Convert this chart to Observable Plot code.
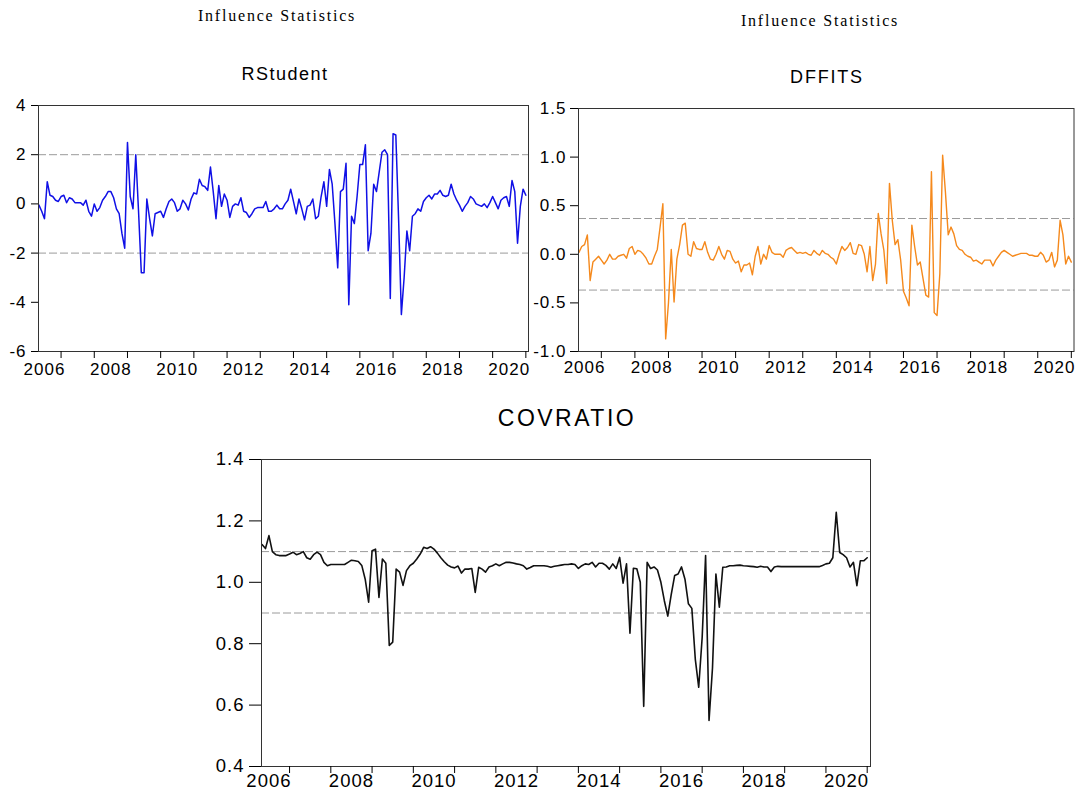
<!DOCTYPE html>
<html><head><meta charset="utf-8">
<script src="https://cdn.jsdelivr.net/npm/d3@7"></script>
<script src="https://cdn.jsdelivr.net/npm/@observablehq/plot@0.6"></script>
<style>
html,body{margin:0;padding:0;background:#fff;}
#root{position:relative;width:1075px;height:799px;overflow:hidden;background:#fff;}
.p{position:absolute;}
.t{position:absolute;width:400px;text-align:center;color:#000;white-space:nowrap;line-height:1;}
.sup{font-family:'Liberation Serif','Times New Roman',serif;font-size:15px;letter-spacing:2px;}
.ttl{font-family:'Liberation Sans',Arial,sans-serif;}
</style></head><body><div id="root"></div>
<script>
// ---- data (monthly observations starting May 2006) ----
const startYear = 2006, startMonth = 5;

const rstudent = [
 -0.05,-0.3,-0.6,0.9,0.35,0.3,0.15,0.1,0.3,0.35,
 0.05,0.25,0.2,0.05,0.05,0.05,-0.05,0.15,-0.3,-0.5,
 0.0,-0.3,-0.15,0.15,0.3,0.5,0.5,0.25,-0.2,-0.4,
 -1.2,-1.8,2.5,0.3,-0.2,2.0,-0.3,-2.8,-2.8,0.2,
 -0.6,-1.3,-0.4,-0.35,-0.3,-0.55,-0.2,0.1,0.2,0.05,
 -0.3,-0.2,0.15,0.0,-0.25,0.2,0.45,0.4,1.0,0.75,
 0.7,0.55,1.5,0.5,-0.6,0.75,-0.1,0.4,0.15,-0.55,
 -0.1,0.0,-0.05,0.25,-0.3,-0.35,-0.55,-0.4,-0.2,-0.15,
 -0.15,-0.15,0.1,-0.3,-0.3,-0.2,-0.05,-0.2,-0.2,0.0,
 0.15,0.6,0.1,-0.4,0.2,-0.2,-0.65,-0.1,-0.05,0.2,
 -0.6,-0.5,0.3,0.9,-0.1,1.4,0.8,-0.8,-2.6,0.5,
 0.6,1.65,-4.1,-0.5,-0.8,0.3,1.6,1.6,2.4,-1.9,
 -1.2,0.8,0.5,1.3,2.1,2.2,2.0,-3.85,2.85,2.8,
 -0.6,-4.5,-3.0,-1.1,-1.9,-0.5,-0.4,-0.2,-0.3,0.1,
 0.25,0.35,0.2,0.4,0.4,0.55,0.35,0.3,0.35,0.8,
 0.4,0.15,-0.05,-0.3,-0.1,0.05,0.3,0.2,0.0,-0.05,
 -0.1,0.0,-0.15,0.05,0.3,0.05,-0.2,0.15,0.25,0.3,
 -0.1,0.95,0.5,-1.6,-0.1,0.6,0.35
];

const dffits = [
 0.02,0.08,0.1,0.2,-0.27,-0.08,-0.05,-0.02,-0.06,-0.1,
 -0.06,0.0,-0.05,-0.05,-0.02,-0.01,0.0,-0.04,0.06,0.08,
 0.0,0.04,0.03,0.0,-0.04,-0.1,-0.1,-0.02,0.05,0.28,
 0.52,-0.87,-0.5,0.05,-0.49,-0.05,0.1,0.3,0.32,0.0,
 -0.02,0.13,0.06,0.05,0.05,0.13,0.02,-0.05,-0.06,0.0,
 0.08,0.0,-0.05,0.04,0.03,-0.05,-0.09,-0.07,-0.18,-0.11,
 -0.11,-0.09,-0.21,-0.02,0.08,-0.1,0.0,-0.05,0.09,0.02,
 0.0,0.0,0.0,-0.03,0.04,0.06,0.07,0.04,0.01,0.02,
 0.01,0.02,0.0,-0.01,0.04,0.01,-0.01,0.04,0.01,0.0,
 -0.03,-0.05,-0.1,0.0,0.08,0.04,0.07,0.12,0.01,0.0,
 0.1,0.09,0.0,-0.18,0.08,-0.27,-0.1,0.42,0.21,0.04,
 -0.3,0.73,0.35,0.1,0.15,-0.06,-0.38,-0.45,-0.53,0.3,
 0.08,-0.11,-0.08,-0.25,-0.42,-0.44,0.85,-0.6,-0.63,-0.2,
 1.02,0.64,0.2,0.28,0.21,0.09,0.05,0.04,0.0,-0.02,
 -0.03,-0.07,-0.06,-0.08,-0.1,-0.06,-0.06,-0.06,-0.12,-0.06,
 -0.02,0.02,0.04,0.02,0.0,-0.02,-0.01,0.0,0.01,0.01,
 0.01,-0.01,-0.01,-0.02,-0.02,0.02,-0.01,-0.08,-0.06,0.02,
 -0.13,-0.06,0.35,0.2,-0.1,-0.02,-0.08
];

const covratio = [
 1.123,1.11,1.152,1.10,1.09,1.087,1.087,1.087,1.092,1.098,
 1.09,1.094,1.10,1.08,1.075,1.09,1.098,1.09,1.065,1.054,
 1.058,1.058,1.058,1.058,1.058,1.065,1.072,1.07,1.068,1.055,
 1.01,0.935,1.103,1.108,0.951,1.076,1.062,0.794,0.805,1.043,
 1.033,0.99,1.038,1.054,1.062,1.076,1.092,1.114,1.11,1.116,
 1.108,1.095,1.08,1.067,1.056,1.05,1.047,1.053,1.03,1.043,
 1.043,1.045,0.967,1.049,1.043,1.033,1.05,1.054,1.06,1.054,
 1.06,1.065,1.065,1.063,1.06,1.058,1.054,1.043,1.048,1.054,
 1.054,1.054,1.054,1.052,1.049,1.052,1.054,1.056,1.058,1.058,
 1.06,1.058,1.045,1.054,1.06,1.058,1.065,1.05,1.062,1.062,
 1.055,1.043,1.06,1.045,1.081,0.997,1.06,0.834,1.046,1.044,
 1.0,0.596,1.065,1.045,1.05,1.04,1.0,0.94,0.89,0.96,
 1.022,1.027,1.05,1.01,0.93,0.915,0.75,0.658,0.82,1.087,
 0.55,0.72,1.027,0.919,1.049,1.05,1.054,1.054,1.055,1.056,
 1.054,1.053,1.052,1.051,1.049,1.052,1.05,1.05,1.035,1.05,
 1.052,1.051,1.051,1.051,1.051,1.051,1.051,1.051,1.051,1.051,
 1.051,1.051,1.051,1.055,1.06,1.062,1.08,1.228,1.097,1.09,
 1.08,1.05,1.065,0.989,1.07,1.07,1.08
];

const rstudentLimits = [-2, 2];
const dffitsLimits = [-0.368, 0.368];
const covratioLimits = [0.9, 1.1];

const rstudentTicks = [-6, -4, -2, 0, 2, 4];
const dffitsTicks = [-1.0, -0.5, 0.0, 0.5, 1.0, 1.5];
const covratioTicks = [0.4, 0.6, 0.8, 1.0, 1.2, 1.4];

const yearLabels = [2006, 2008, 2010, 2012, 2014, 2016, 2018, 2020];
const yearTicks = [2007, 2008, 2009, 2010, 2011, 2012, 2013, 2014, 2015, 2016, 2017, 2018, 2019, 2020, 2021];
const xDomain = [2006.32, 2021.08];

// ---- build ----
const toRows = vals => vals.map((v, i) => ({t: startYear + (startMonth - 1 + i) / 12, v}));

const root = document.getElementById("root");

function panel({left, top, width, height, mL, mR, mT, mB, yDomain, yTicks, yFmt, yTickSize, yPad,
                xTickSize, xPad, font, values, limits, color, sw}) {
  const chart = Plot.plot({
    width, height,
    marginLeft: mL, marginRight: mR, marginTop: mT, marginBottom: mB,
    x: {domain: xDomain},
    y: {domain: yDomain},
    style: `font-family:'Liberation Sans',Arial,sans-serif;font-size:${font}px;letter-spacing:1px;color:#000;background:none;overflow:visible;`,
    marks: [
      Plot.ruleY(limits, {stroke: "#9a9a9a", strokeWidth: 1, strokeDasharray: "8,3"}),
      Plot.lineY(toRows(values), {x: "t", y: "v", stroke: color, strokeWidth: sw}),
      Plot.frame({stroke: "#333", strokeWidth: 1}),
      Plot.axisY({ticks: yTicks, tickSize: yTickSize, tickPadding: yPad, tickFormat: yFmt, label: null, fontSize: font}),
      Plot.axisX({ticks: yearTicks, tickSize: xTickSize, tickFormat: () => "", label: null}),
      Plot.axisX({ticks: yearLabels.map(y => y + 0.5), tickSize: 0, tickPadding: xPad,
                  tickFormat: d => String(Math.floor(d)), label: null, fontSize: font})
    ]
  });
  chart.classList.add("p");
  chart.style.left = left + "px";
  chart.style.top = top + "px";
  root.appendChild(chart);
}

panel({left: 0, top: 95, width: 535, height: 290, mL: 38, mR: 7, mT: 10, mB: 34,
  yDomain: [-6, 4], yTicks: rstudentTicks, yFmt: d => String(d), yTickSize: 7, yPad: 5,
  xTickSize: 7, xPad: 11, font: 17, values: rstudent, limits: rstudentLimits, color: "#1010e6", sw: 1.5});

panel({left: 535, top: 95, width: 540, height: 290, mL: 43, mR: 1.5, mT: 13, mB: 34,
  yDomain: [-1, 1.5], yTicks: dffitsTicks, yFmt: d => d.toFixed(1), yTickSize: 8, yPad: 4,
  xTickSize: 7, xPad: 9, font: 17, values: dffits, limits: dffitsLimits, color: "#f5891c", sw: 1.4});

panel({left: 200, top: 440, width: 680, height: 359, mL: 61, mR: 10, mT: 19, mB: 33,
  yDomain: [0.4, 1.4], yTicks: covratioTicks, yFmt: d => d.toFixed(1), yTickSize: 12, yPad: 5,
  xTickSize: 7, xPad: 7, font: 18.5, values: covratio, limits: covratioLimits, color: "#111", sw: 1.6});

// ---- titles ----
function label(text, cls, cx, top, size, spacing) {
  const d = document.createElement("div");
  d.className = "t " + cls;
  d.textContent = text;
  d.style.left = (cx - 200) + "px";
  d.style.top = top + "px";
  if (size) d.style.fontSize = size + "px";
  if (spacing != null) d.style.letterSpacing = spacing + "px";
  root.appendChild(d);
}
label("Influence Statistics", "sup", 277, 7.5, 16, 1.8);
label("Influence Statistics", "sup", 820, 12.5, 16, 1.8);
label("RStudent", "ttl", 285, 65, 18, 1.5);
label("DFFITS", "ttl", 827, 68, 18, 1.8);
label("COVRATIO", "ttl", 567, 407, 23, 2.5);
</script>
</body></html>
